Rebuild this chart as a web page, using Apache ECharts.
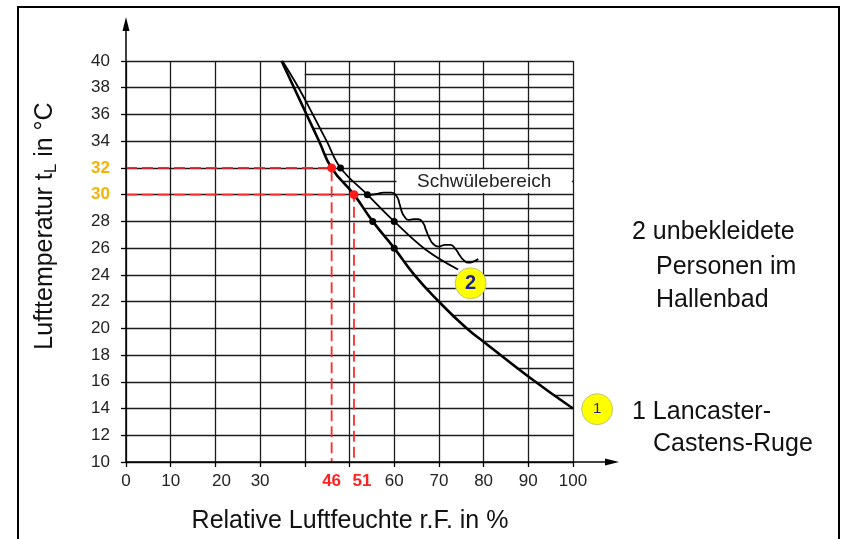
<!DOCTYPE html>
<html>
<head>
<meta charset="utf-8">
<script src="https://cdn.jsdelivr.net/npm/echarts@6/dist/echarts.min.js"></script>
<style>
  html, body { margin: 0; padding: 0; background: #fff; }
  #chart { width: 842px; height: 539px; }
</style>
</head>
<body>
<div id="chart"></div>
<script>
// values (x = rel. humidity %, y = air temperature °C)
const curve1 = [[34.8, 40], [37.6, 38], [40.4, 36], [43.2, 34], [46, 32], [51, 30], [55.2, 28],
  [60, 26], [64.5, 24], [70, 22], [76.2, 20], [80, 19], [90, 16.4], [100, 14]];
const curve2 = [[35, 40], [38.6, 38], [41.8, 36], [44.9, 34], [48, 32], [54, 30], [60, 28],
  [67, 25.9], [74.3, 24.4]];
const wave = [[53.85, 29.98], [56.1, 30.05], [57.6, 30.15], [59.4, 30.15], [60.6, 29.85],
  [61.15, 29.36], [61.7, 28.73], [62.3, 28.36], [63.2, 28.11], [64.3, 28.16], [65.4, 28.16],
  [66.5, 27.86], [67.1, 27.36], [67.9, 26.74], [68.75, 26.31], [69.9, 26.11], [71.4, 26.24],
  [72.5, 26.24], [73.6, 25.99], [74.6, 25.49], [75.5, 25.12], [76.6, 24.91], [77.7, 24.99],
  [78.8, 25.19]];
const dots1 = [[55.2, 28], [60, 26]];
const dots2 = [[48, 32], [54, 30], [60, 28]];
const redDots = [[46, 32], [51, 30]];
const hatchTemps = [39, 37, 35, 33, 31, 29, 27, 25, 23, 21, 19, 17, 15];
const hatchStart = [40, 40, 41.8, 44.6, 48.5, 53, 57.6, 62.2, 67.2, 73, 80, 87.5, 95.8];
const xLabels = [0, 10, 20, 30, 46, 51, 60, 70, 80, 90, 100];
const xRed = [46, 51];
const yOrange = [30, 32];
const badges = [{ name: '1', value: [105.4, 13.95] }, { name: '2', value: [77.1, 23.37] }];
const zoneBox = [[60.5, 31.88, 99.75, 30.12, 'Schwülebereich']];

const FONT = '"Liberation Sans", Arial, sans-serif';
const GRIDC = '#1c1c1c';

const chart = echarts.init(document.getElementById('chart'));

const xFmt = (v) => {
  if (v === 51) return '{rs|51}';
  if (xRed.includes(v)) return '{r|' + v + '}';
  if (v === 20) return '{s|20}';
  return String(v);
};

const option = {
  animation: false,
  grid: { left: 126, top: 61, width: 447, height: 401 },
  xAxis: {
    type: 'value', min: 0, max: 100, interval: 10,
    axisLine: { show: false },
    axisTick: { show: true, length: 5, lineStyle: { color: '#000', width: 1.3 } },
    axisLabel: {
      customValues: xLabels, margin: 11, fontSize: 17, color: '#222', fontFamily: FONT,
      formatter: xFmt,
      rich: {
        r: { color: '#ff2222', fontWeight: 'bold', fontSize: 17, fontFamily: FONT },
        rs: { color: '#ff2222', fontWeight: 'bold', fontSize: 17, fontFamily: FONT, padding: [0, 0, 0, 16] },
        s: { color: '#222', fontSize: 17, fontFamily: FONT, padding: [0, 0, 0, 12] }
      }
    },
    splitLine: { show: true, lineStyle: { color: GRIDC, width: 1.3 } }
  },
  yAxis: {
    type: 'value', min: 10, max: 40, interval: 2,
    axisLine: { show: false },
    axisTick: { show: true, length: 5, lineStyle: { color: '#000', width: 1.3 } },
    axisLabel: {
      margin: 16, fontSize: 17, color: '#222', fontFamily: FONT,
      formatter: (v) => yOrange.includes(v) ? '{o|' + v + '}' : String(v),
      rich: { o: { color: '#f5b400', fontWeight: 'bold', fontSize: 17, fontFamily: FONT } }
    },
    splitLine: { show: true, lineStyle: { color: GRIDC, width: 1.3 } }
  },
  series: [
    {
      type: 'lines', coordinateSystem: 'cartesian2d', z: 1, silent: true,
      lineStyle: { color: GRIDC, width: 1.3, opacity: 1 },
      data: hatchTemps.map((t, i) => ({ coords: [[hatchStart[i], t], [100, t]] }))
    },
    {
      // white box behind the "Schwülebereich" label
      type: 'custom', z: 2, silent: true, data: zoneBox,
      renderItem: (params, api) => {
        const a = api.coord([api.value(0), api.value(1)]);
        const b = api.coord([api.value(2), api.value(3)]);
        return {
          type: 'group',
          children: [
            { type: 'rect', shape: { x: a[0], y: a[1], width: b[0] - a[0], height: b[1] - a[1] }, style: { fill: '#fff' } },
            {
              type: 'text', x: (a[0] + b[0]) / 2, y: (a[1] + b[1]) / 2,
              style: { text: zoneBox[params.dataIndex][4], fontSize: 19, fontFamily: FONT, fill: '#222', align: 'center', verticalAlign: 'middle' }
            }
          ]
        };
      }
    },
    {
      type: 'line', z: 3, data: [[0, 32], [46, 32], [46, 10]], symbol: 'none',
      lineStyle: { color: '#ff2a2a', width: 1.8, type: [11, 5] }
    },
    {
      type: 'line', z: 3, data: [[0, 30], [51, 30], [51, 10]], symbol: 'none',
      lineStyle: { color: '#ff2a2a', width: 1.8, type: [11, 5] }
    },
    {
      type: 'line', z: 4, data: curve1, smooth: 0.5, symbol: 'none',
      lineStyle: { color: '#000', width: 2.6 }
    },
    {
      type: 'line', z: 4, data: curve2, smooth: 0.4, symbol: 'none',
      lineStyle: { color: '#000', width: 1.8 }
    },
    {
      type: 'line', z: 4, data: wave, smooth: 0.6, symbol: 'none',
      lineStyle: { color: '#000', width: 1.8 }
    },
    {
      type: 'scatter', z: 5, data: dots1.concat(dots2), symbolSize: 7,
      itemStyle: { color: '#000', opacity: 1 }
    },
    {
      type: 'scatter', z: 5, data: redDots, symbolSize: 9,
      itemStyle: { color: '#ff1a1a', opacity: 1 }
    },
    {
      type: 'scatter', z: 6, symbolSize: 31, clip: false,
      data: badges.map((b) => b.name === '2'
        ? Object.assign({}, b, { label: { fontSize: 20, fontWeight: 'bold' } }) : b),
      itemStyle: { color: '#ffff00', borderColor: '#c4c47a', borderWidth: 1, opacity: 1 },
      label: {
        show: true, position: 'inside', formatter: (p) => p.name, color: '#1f1f8c',
        fontFamily: FONT, fontSize: 15
      },
      emphasis: { disabled: true }
    }
  ]
};

chart.setOption(option);

const o = chart.convertToPixel({ gridIndex: 0 }, [0, 10]);
const txt = (s, x, y, size) => ({
  type: 'text', x, y,
  style: { text: s, fontSize: size, fontFamily: FONT, fill: '#111', align: 'left', verticalAlign: 'middle' }
});

chart.setOption({
  graphic: [
    { type: 'rect', shape: { x: 18, y: 7, width: 821, height: 560 }, style: { fill: null, stroke: '#000', lineWidth: 2 } },
    { type: 'line', shape: { x1: o[0], y1: o[1], x2: o[0], y2: 26 }, style: { stroke: '#000', lineWidth: 1.5 }, z: 10 },
    { type: 'polygon', shape: { points: [[o[0], 17], [o[0] - 3.5, 31], [o[0] + 3.5, 31]] }, style: { fill: '#000' }, z: 10 },
    { type: 'line', shape: { x1: o[0], y1: o[1], x2: 610, y2: o[1] }, style: { stroke: '#000', lineWidth: 1.5 }, z: 10 },
    { type: 'polygon', shape: { points: [[619, o[1]], [605, o[1] - 3.5], [605, o[1] + 3.5]] }, style: { fill: '#000' }, z: 10 },
    txt('2 unbekleidete', 632, 232, 25),
    txt('Personen im', 656, 267, 25),
    txt('Hallenbad', 656, 300, 25),
    txt('1 Lancaster-', 632, 412, 25),
    txt('Castens-Ruge', 653, 444, 25),
    {
      type: 'text', x: 350, y: 521,
      style: { text: 'Relative Luftfeuchte r.F. in %', fontSize: 25, fontFamily: FONT, fill: '#111', align: 'center', verticalAlign: 'middle' }
    },
    {
      type: 'text', x: 45, y: 226, rotation: Math.PI / 2,
      style: {
        text: '{n|Lufttemperatur t}{s|L}{n| in °C}', align: 'center', verticalAlign: 'middle', fill: '#111',
        rich: {
          n: { fontSize: 25, fontFamily: FONT, fill: '#111' },
          s: { fontSize: 17, fontFamily: FONT, fill: '#111', padding: [13, 0, 0, 0] }
        }
      }
    }
  ]
});
</script>
</body>
</html>
